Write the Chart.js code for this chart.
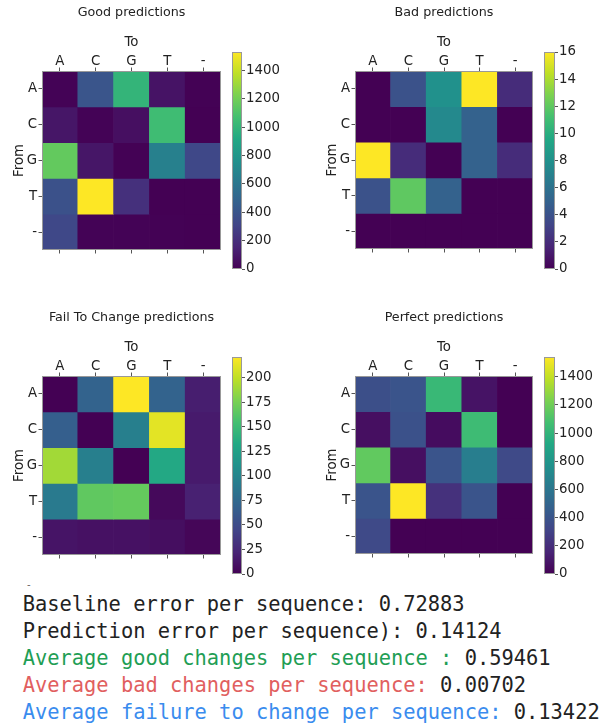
<!DOCTYPE html>
<html>
<head>
<meta charset="utf-8">
<script src="https://cdn.jsdelivr.net/npm/chart.js@4"></script>
<style>
  body { margin: 0; background: #fff; width: 607px; height: 725px; position: relative; overflow: hidden; }
  canvas { position: absolute; }
  .stats { position: absolute; left: 22.7px; top: 590.5px; font-family: "DejaVu Sans Mono", monospace; font-size: 20.4px; line-height: 27px; color: #222; white-space: pre; }
  .good { color: #1f9e55; }
  .bad { color: #e15f5f; }
  .fail { color: #3a8cee; }
  .dash { position: absolute; left: 27px; top: 579px; font-family: "DejaVu Sans"; font-size: 10px; color: #666; }
</style>
</head>
<body>
<canvas id="hGood"></canvas><canvas id="cGood"></canvas>
<canvas id="hBad"></canvas><canvas id="cBad"></canvas>
<canvas id="hFail"></canvas><canvas id="cFail"></canvas>
<canvas id="hPerf"></canvas><canvas id="cPerf"></canvas>
<div class="dash">-</div>
<div class="stats">Baseline error per sequence: 0.72883
Prediction error per sequence): 0.14124
<span class="good">Average good changes per sequence :</span> 0.59461
<span class="bad">Average bad changes per sequence:</span> 0.00702
<span class="fail">Average failure to change per sequence:</span> 0.13422</div>
<script>
// rows = "From", columns = "To"
const bases = ['A', 'C', 'G', 'T', '-'];

const goodVals = [
  [10, 400, 1000, 80, 5],
  [90, 10, 60, 1050, 0],
  [1160, 90, 5, 660, 330],
  [380, 1530, 210, 0, 0],
  [330, 10, 10, 5, 0]
];
const badVals = [
  [0, 4, 8, 16, 2],
  [0, 0, 7.5, 5, 0],
  [16, 2, 0, 5, 2],
  [4, 12, 5, 0, 0],
  [0, 0, 0, 0, 0]
];
const failVals = [
  [0, 70, 221, 70, 18],
  [66, 0, 95, 212, 16],
  [190, 95, 0, 133, 16],
  [90, 166, 168, 5, 20],
  [12, 10, 10, 8, 3]
];
const perfVals = [
  [370, 400, 1030, 80, 0],
  [60, 380, 50, 1050, 0],
  [1160, 60, 400, 650, 340],
  [400, 1540, 215, 400, 0],
  [340, 0, 0, 0, 0]
];

const goodMax = 1530, badMax = 16, failMax = 221, perfMax = 1540;
const goodTicks = [0, 200, 400, 600, 800, 1000, 1200, 1400];
const badTicks = [0, 2, 4, 6, 8, 10, 12, 14, 16];
const failTicks = [0, 25, 50, 75, 100, 125, 150, 175, 200];
const perfTicks = [0, 200, 400, 600, 800, 1000, 1200, 1400];

// viridis colour map
const VIR = ['#440154', '#482475', '#414487', '#355f8d', '#2a788e', '#21918c',
             '#22a884', '#44bf70', '#7ad151', '#bddf26', '#fde725'];
function hex(h) { return [1, 3, 5].map(i => parseInt(h.substr(i, 2), 16)); }
function viridis(t) {
  t = Math.max(0, Math.min(1, t));
  const p = t * (VIR.length - 1);
  const i = Math.min(Math.floor(p), VIR.length - 2);
  const f = p - i;
  const a = hex(VIR[i]), b = hex(VIR[i + 1]);
  const c = a.map((v, k) => Math.round(v + (b[k] - v) * f));
  return `rgb(${c[0]},${c[1]},${c[2]})`;
}

const FONT = 'DejaVu Sans';
const frame = {
  id: 'frame',
  afterDatasetsDraw(chart) {
    const a = chart.chartArea, ctx = chart.ctx;
    ctx.save();
    ctx.strokeStyle = '#999';
    ctx.lineWidth = 1;
    ctx.strokeRect(Math.round(a.left) + 0.5, Math.round(a.top) + 0.5,
                   Math.round(a.right - a.left) - 1, Math.round(a.bottom - a.top) - 1);
    ctx.restore();
  }
};

function heatmap(id, title, values, vmax, gx, gy, size) {
  const cv = document.getElementById(id);
  const left = 42, top = 71, right = 6, bottom = 14;
  cv.style.left = (gx - left) + 'px';
  cv.style.top = (gy - top) + 'px';
  cv.width = left + size + right;
  cv.height = top + size + bottom;
  const tickGrid = { offset: false, drawOnChartArea: false, tickLength: 3.5, color: '#555', lineWidth: 1 };
  new Chart(cv, {
    type: 'bar',
    data: {
      labels: bases,
      datasets: values.map((row, r) => ({
        label: bases[r],
        data: row.map(() => [r, r + 1]),
        backgroundColor: row.map(v => viridis(v / vmax)),
        borderWidth: 0,
        barPercentage: 1,
        categoryPercentage: 1,
        xAxisID: 'x',
        yAxisID: 'yv'
      }))
    },
    options: {
      responsive: false,
      animation: false,
      layout: { padding: { right: right } },
      plugins: {
        legend: { display: false },
        tooltip: { enabled: false },
        title: {
          display: true, text: title, fullSize: false, color: '#222',
          font: { family: FONT, size: 12.7, weight: 'normal' },
          padding: { top: 5, bottom: 0 }
        }
      },
      scales: {
        x: {
          type: 'category', position: 'top', offset: true, stacked: true,
          grid: tickGrid, border: { display: false },
          ticks: { color: '#222', padding: -2.5, font: { family: FONT, size: 13.3 } },
          title: { display: true, text: 'To', color: '#222', padding: { top: 14, bottom: 0 }, font: { family: FONT, size: 13.3 } },
          afterFit: s => { s.height = top - 20.24; }
        },
        x2: {
          type: 'category', position: 'bottom', labels: bases, offset: true,
          grid: tickGrid, border: { display: false },
          ticks: { display: false },
          afterFit: s => { s.height = bottom; }
        },
        y: {
          type: 'category', position: 'left', labels: bases, offset: true,
          grid: tickGrid, border: { display: false },
          ticks: { color: '#222', padding: 1.5, font: { family: FONT, size: 13.3 } },
          title: { display: true, text: 'From', color: '#222', padding: { top: 12, bottom: 0 }, font: { family: FONT, size: 13.3 } },
          afterFit: s => { s.width = left; }
        },
        yv: { type: 'linear', display: false, min: 0, max: bases.length, reverse: true }
      }
    },
    plugins: [frame]
  });
}

function colorbar(id, vmax, ticks, bx, by, bw, bh) {
  const cv = document.getElementById(id);
  const pad = 12, labelW = 50;
  cv.style.left = bx + 'px';
  cv.style.top = (by - pad) + 'px';
  cv.width = bw + labelW;
  cv.height = bh + pad * 2;
  new Chart(cv, {
    type: 'bar',
    data: {
      labels: [''],
      datasets: [{
        data: [[0, vmax]],
        borderWidth: 0,
        barPercentage: 1,
        categoryPercentage: 1,
        backgroundColor: ctx => {
          const a = ctx.chart.chartArea;
          if (!a) return VIR[0];
          const g = ctx.chart.ctx.createLinearGradient(0, a.bottom, 0, a.top);
          VIR.forEach((c, i) => g.addColorStop(i / (VIR.length - 1), c));
          return g;
        }
      }]
    },
    options: {
      responsive: false,
      animation: false,
      layout: { padding: { top: pad, bottom: pad, left: 0, right: 0 } },
      plugins: { legend: { display: false }, tooltip: { enabled: false } },
      scales: {
        x: { display: false },
        y: {
          position: 'right', min: 0, max: vmax,
          afterBuildTicks: s => { s.ticks = ticks.map(v => ({ value: v })); },
          grid: { drawOnChartArea: false, tickLength: 3, color: '#555' },
          border: { display: false },
          ticks: { color: '#222', padding: 1, font: { family: FONT, size: 13.3 }, callback: v => String(v) },
          afterFit: s => { s.width = labelW; }
        }
      }
    },
    plugins: [frame]
  });
}

heatmap('hGood', 'Good predictions', goodVals, goodMax, 42, 71, 179);
heatmap('hBad', 'Bad predictions', badVals, badMax, 355, 71, 178);
heatmap('hFail', 'Fail To Change predictions', failVals, failMax, 42, 376, 179);
heatmap('hPerf', 'Perfect predictions', perfVals, perfMax, 355, 376, 178);

colorbar('cGood', goodMax, goodTicks, 232, 52, 10, 217);
colorbar('cBad', badMax, badTicks, 544, 52, 11, 217);
colorbar('cFail', failMax, failTicks, 232, 357, 10, 217);
colorbar('cPerf', perfMax, perfTicks, 544, 357, 11, 217);
</script>
</body>
</html>
